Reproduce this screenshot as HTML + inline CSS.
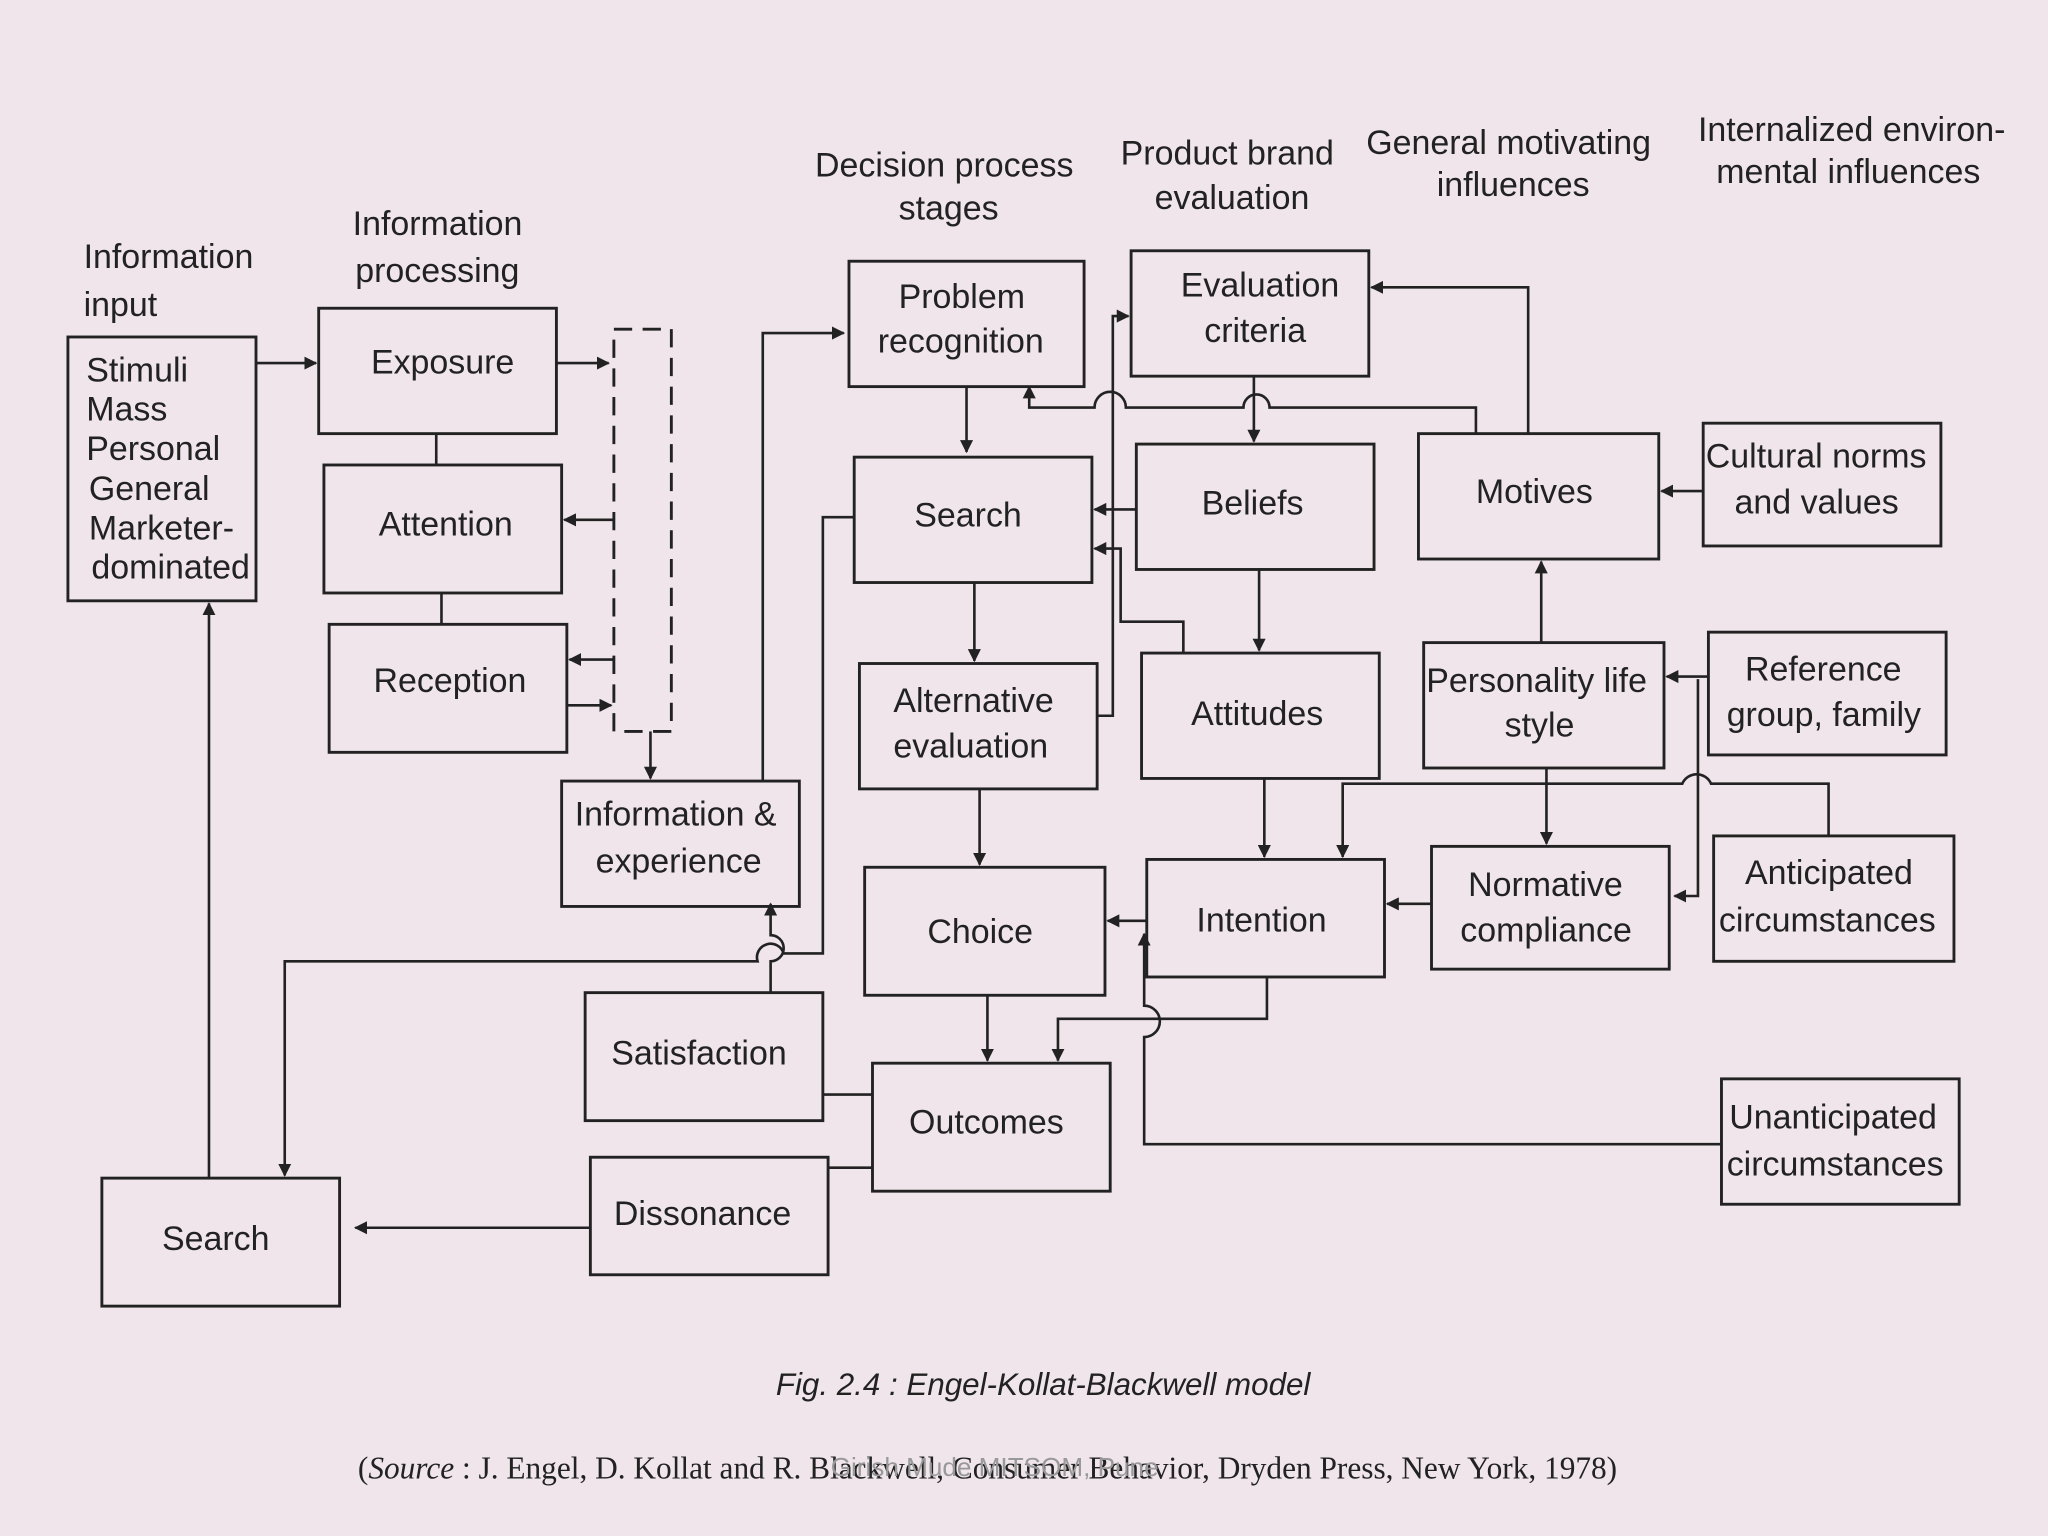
<!DOCTYPE html>
<html><head><meta charset="utf-8"><style>
html,body{margin:0;padding:0;background:#efe5ea;}
svg{display:block}
text{font-family:"Liberation Sans",sans-serif;fill:#222;}
</style></head><body>
<svg width="2048" height="1536" viewBox="0 0 1568 1176" xmlns="http://www.w3.org/2000/svg">
<defs><marker id="a" markerWidth="10" markerHeight="10" refX="9" refY="5" orient="auto" markerUnits="userSpaceOnUse"><path d="M0,0 L10,5 L0,10 z" fill="#222"/></marker></defs>
<rect width="1568" height="1176" fill="#efe5ea"/>
<g fill="none" stroke="#222" stroke-width="2.2">
<rect x="52" y="258" width="144" height="202"/>
<rect x="244" y="236" width="182" height="96"/>
<rect x="248" y="356" width="182" height="98"/>
<rect x="252" y="478" width="182" height="98"/>
<rect x="470" y="252" width="44" height="308" stroke-dasharray="14,8"/>
<rect x="430" y="598" width="182" height="96"/>
<rect x="650" y="200" width="180" height="96"/>
<rect x="654" y="350" width="182" height="96"/>
<rect x="658" y="508" width="182" height="96"/>
<rect x="662" y="664" width="184" height="98"/>
<rect x="668" y="814" width="182" height="98"/>
<rect x="448" y="760" width="182" height="98"/>
<rect x="452" y="886" width="182" height="90"/>
<rect x="78" y="902" width="182" height="98"/>
<rect x="866" y="192" width="182" height="96"/>
<rect x="870" y="340" width="182" height="96"/>
<rect x="874" y="500" width="182" height="96"/>
<rect x="878" y="658" width="182" height="90"/>
<rect x="1086" y="332" width="184" height="96"/>
<rect x="1090" y="492" width="184" height="96"/>
<rect x="1096" y="648" width="182" height="94"/>
<rect x="1304" y="324" width="182" height="94"/>
<rect x="1308" y="484" width="182" height="94"/>
<rect x="1312" y="640" width="184" height="96"/>
<rect x="1318" y="826" width="182" height="96"/>
</g>
<g fill="none" stroke="#222" stroke-width="2" marker-end="url(#a)">
<path d="M196,278 H242"/>
<path d="M426,278 H466"/>
<path d="M470,398 H432"/>
<path d="M470,505 H436"/>
<path d="M434,540 H468"/>
<path d="M498,560 V596"/>
<path d="M584,598 V255 H646"/>
<path d="M740,296 V346"/>
<path d="M746,446 V506"/>
<path d="M750,604 V662"/>
<path d="M756,762 V812"/>
<path d="M960,288 V338"/>
<path d="M964,436 V498"/>
<path d="M968,596 V656"/>
<path d="M878,705 H848"/>
<path d="M1096,692 H1062"/>
<path d="M1180,492 V430"/>
<path d="M1304,376 H1272"/>
<path d="M1308,518 H1276"/>
<path d="M1184,588 V646"/>
<path d="M1170,332 V220 H1050"/>
<path d="M1130,332 V312 H972 A10,10 0 0 0 952,312 H862 A12,12 0 0 0 838,312 H788 V296"/>
<path d="M840,548 H852 V242 H864"/>
<path d="M870,390 H838"/>
<path d="M906,500 V476 H858 V420 H838"/>
<path d="M1400,640 V600 H1310 A12,12 0 0 0 1288,600 H1028 V656"/>
<path d="M1300,520 V686 H1282"/>
<path d="M970,748 V780 H810 V812"/>
<path d="M1318,876 H876 V794 A12,12 0 0 0 876,770 V715"/>
<path d="M590,760 V736 A10,10 0 0 0 590,716 V692"/>
<path d="M654,396 H630 V730 H600 A10,10 0 0 0 580,736 H218 V900"/>
<path d="M160,902 V462"/>
<path d="M452,940 H272"/>
</g>
<g fill="none" stroke="#222" stroke-width="2">
<path d="M334,332 V356"/><path d="M338,454 V478"/>
<path d="M630,838 H668"/><path d="M634,894 H668"/>
</g>
<g font-size="26">
<text x="64" y="205">Information</text><text x="64" y="242">input</text>
<text x="270" y="180">Information</text><text x="272" y="216">processing</text>
<text x="624" y="135">Decision process</text><text x="688" y="168">stages</text>
<text x="858" y="126">Product brand</text><text x="884" y="160">evaluation</text>
<text x="1046" y="118">General motivating</text><text x="1100" y="150">influences</text>
<text x="1300" y="108">Internalized environ-</text><text x="1314" y="140">mental influences</text>
<text x="66" y="292">Stimuli</text><text x="66" y="322">Mass</text><text x="66" y="352">Personal</text><text x="68" y="383">General</text><text x="68" y="413">Marketer-</text><text x="70" y="443">dominated</text>
<text x="284" y="286">Exposure</text>
<text x="290" y="410">Attention</text>
<text x="286" y="530">Reception</text>
<text x="440" y="632">Information &amp;</text><text x="456" y="668">experience</text>
<text x="688" y="236">Problem</text><text x="672" y="270">recognition</text>
<text x="700" y="403">Search</text>
<text x="684" y="545">Alternative</text><text x="684" y="580">evaluation</text>
<text x="710" y="722">Choice</text>
<text x="696" y="868">Outcomes</text>
<text x="468" y="815">Satisfaction</text>
<text x="470" y="938">Dissonance</text>
<text x="124" y="957">Search</text>
<text x="904" y="227">Evaluation</text><text x="922" y="262">criteria</text>
<text x="920" y="394">Beliefs</text>
<text x="912" y="555">Attitudes</text>
<text x="916" y="713">Intention</text>
<text x="1130" y="385">Motives</text>
<text x="1092" y="530">Personality life</text><text x="1152" y="564">style</text>
<text x="1124" y="686">Normative</text><text x="1118" y="721">compliance</text>
<text x="1306" y="358">Cultural norms</text><text x="1328" y="393">and values</text>
<text x="1336" y="521">Reference</text><text x="1322" y="556">group, family</text>
<text x="1336" y="677">Anticipated</text><text x="1316" y="713">circumstances</text>
<text x="1324" y="864">Unanticipated</text><text x="1322" y="900">circumstances</text>
</g>
<text x="594" y="1068" font-size="24" font-style="italic">Fig. 2.4 : Engel-Kollat-Blackwell model</text>
<text x="274" y="1132" font-size="24" font-family="Liberation Serif" style="font-family:'Liberation Serif',serif">(<tspan font-style="italic">Source</tspan> : J. Engel, D. Kollat and R. Blackwell, Consumer Behavior, Dryden Press, New York, 1978)</text>
<text x="636" y="1130" font-size="20" style="fill:#999">Girish Mude MITSOM, Pune</text>
</svg>
</body></html>
